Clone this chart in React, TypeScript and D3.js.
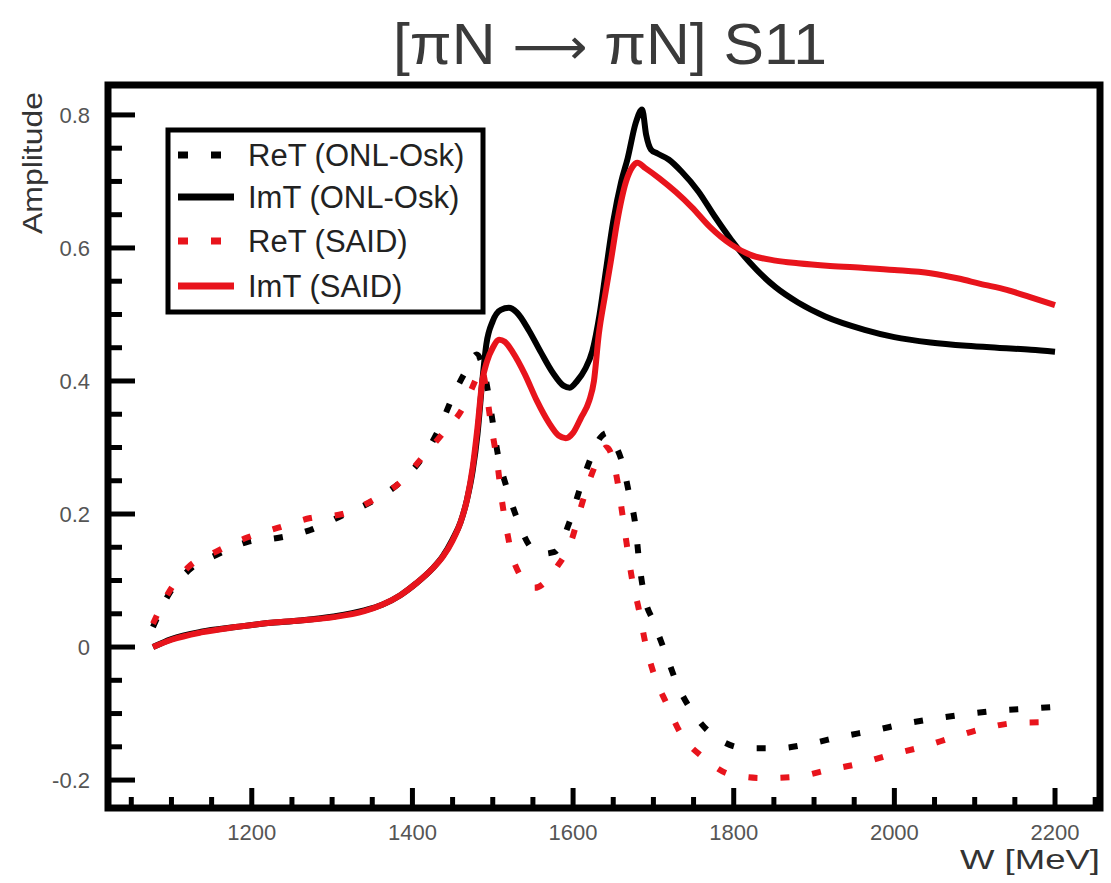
import React from "react";
import * as d3 from "d3";

const TITLE_LEFT = "[πN ";
const TITLE_ARROW = "⟶";
const TITLE_RIGHT = " πN] S11";
const X_TITLE = "W [MeV]";
const Y_TITLE = "Amplitude";
const X_TICKS = [1200, 1400, 1600, 1800, 2000, 2200];
const Y_TICKS = [-0.2, 0, 0.2, 0.4, 0.6, 0.8];
const Y_TICK_LABELS = ["-0.2", "0", "0.2", "0.4", "0.6", "0.8"];
const Y_MINOR = [-0.15, -0.1, -0.05, 0.05, 0.1, 0.15, 0.25, 0.3, 0.35, 0.45, 0.5, 0.55, 0.65, 0.7, 0.75];
const X_MINOR = [1050, 1100, 1150, 1250, 1300, 1350, 1450, 1500, 1550, 1650, 1700, 1750, 1850, 1900, 1950, 2050, 2100, 2150, 2250];

// ImT (ONL-Osk) — black solid
const imOnlW = [1077, 1100, 1137, 1180, 1220, 1260, 1302, 1340, 1363, 1385, 1405, 1425, 1438, 1450, 1460, 1468, 1475, 1481, 1487, 1492, 1500, 1510, 1520, 1530, 1545, 1560, 1575, 1588, 1596, 1605, 1615, 1624, 1633, 1641, 1650, 1660, 1668, 1678, 1686, 1691, 1697, 1705, 1719, 1735, 1756, 1776, 1797, 1820, 1852, 1880, 1914, 1963, 2000, 2045, 2090, 2128, 2170, 2200];
const imOnlV = [0.0, 0.012, 0.023, 0.030, 0.036, 0.040, 0.046, 0.055, 0.064, 0.078, 0.096, 0.118, 0.137, 0.162, 0.188, 0.222, 0.265, 0.32, 0.40, 0.455, 0.49, 0.507, 0.510, 0.503, 0.476, 0.443, 0.412, 0.393, 0.390, 0.400, 0.418, 0.445, 0.50, 0.567, 0.64, 0.70, 0.735, 0.788, 0.808, 0.77, 0.748, 0.742, 0.733, 0.715, 0.685, 0.648, 0.612, 0.578, 0.541, 0.518, 0.497, 0.477, 0.466, 0.458, 0.453, 0.450, 0.447, 0.444];

// ImT (SAID) — red solid
const imSaidW = [1077, 1100, 1137, 1180, 1220, 1260, 1302, 1340, 1363, 1385, 1405, 1425, 1438, 1450, 1460, 1468, 1475, 1481, 1487, 1493, 1500, 1508, 1515, 1525, 1540, 1555, 1570, 1582, 1591, 1600, 1610, 1620, 1626, 1632, 1640, 1647, 1655, 1666, 1674, 1680, 1690, 1707, 1728, 1748, 1770, 1797, 1820, 1852, 1880, 1920, 1963, 2000, 2045, 2080, 2107, 2140, 2169, 2200];
const imSaidV = [0.0, 0.011, 0.022, 0.030, 0.036, 0.040, 0.045, 0.054, 0.064, 0.078, 0.096, 0.118, 0.136, 0.160, 0.188, 0.222, 0.27, 0.33, 0.40, 0.43, 0.45, 0.462, 0.459, 0.443, 0.41, 0.37, 0.337, 0.318, 0.314, 0.322, 0.345, 0.37, 0.40, 0.47, 0.53, 0.58, 0.64, 0.70, 0.722, 0.728, 0.72, 0.705, 0.684, 0.661, 0.632, 0.605, 0.59, 0.581, 0.577, 0.573, 0.570, 0.567, 0.562, 0.554, 0.546, 0.537, 0.526, 0.514];

// ReT (ONL-Osk) — black dashed
const reOnlW = [1077, 1096, 1121, 1155, 1195, 1232, 1273, 1313, 1351, 1385, 1412, 1434, 1450, 1469, 1480, 1490, 1500, 1506, 1517, 1530, 1546, 1560, 1577, 1595, 1608, 1622, 1634, 1642, 1652, 1661, 1670, 1678, 1682, 1688, 1701, 1716, 1730, 1750, 1777, 1816, 1855, 1896, 1933, 1976, 2014, 2054, 2095, 2134, 2175, 2200];
const reOnlV = [0.03, 0.078, 0.115, 0.138, 0.158, 0.164, 0.176, 0.198, 0.22, 0.248, 0.284, 0.33, 0.376, 0.42, 0.44, 0.41, 0.338, 0.292, 0.241, 0.194, 0.152, 0.14, 0.143, 0.186, 0.236, 0.284, 0.315, 0.322, 0.305, 0.278, 0.229, 0.179, 0.131, 0.081, 0.036, -0.012, -0.057, -0.10, -0.135, -0.152, -0.152, -0.145, -0.135, -0.125, -0.115, -0.107, -0.10, -0.095, -0.092, -0.09];

// ReT (SAID) — red dashed
const reSaidW = [1077, 1096, 1121, 1155, 1195, 1232, 1273, 1313, 1351, 1385, 1413, 1437, 1463, 1478, 1485, 1499, 1506, 1511, 1517, 1527, 1552, 1579, 1599, 1610, 1622, 1642, 1655, 1661, 1667, 1673, 1682, 1690, 1701, 1716, 1734, 1763, 1797, 1837, 1878, 1917, 1957, 1995, 2035, 2075, 2113, 2153, 2192, 2200];
const reSaidV = [0.035, 0.081, 0.12, 0.143, 0.165, 0.179, 0.194, 0.20, 0.221, 0.248, 0.286, 0.32, 0.36, 0.40, 0.42, 0.326, 0.274, 0.224, 0.179, 0.126, 0.089, 0.119, 0.164, 0.211, 0.256, 0.30, 0.251, 0.203, 0.153, 0.105, 0.056, 0.006, -0.042, -0.084, -0.13, -0.167, -0.192, -0.197, -0.195, -0.185, -0.175, -0.162, -0.15, -0.135, -0.122, -0.114, -0.113, -0.113];

const LEGEND_LABELS = ["ReT (ONL-Osk)", "ImT (ONL-Osk)", "ReT (SAID)", "ImT (SAID)"];
const LEGEND_RED = [false, false, true, true];
const LEGEND_DASHED = [true, false, true, false];

const RED = "#e8141c";
const FONT = "'Liberation Sans', Arial, Helvetica, sans-serif";

export default function App() {
  const W = 1111, H = 883;
  const left = 108, right = 1100, top = 85, bottom = 808;
  const x = d3.scaleLinear().domain([1021, 2256]).range([left, right]);
  const y = d3.scaleLinear().domain([-0.242, 0.845]).range([bottom, top]);

  const line = d3
    .line<[number, number]>()
    .x((d) => x(d[0]))
    .y((d) => y(d[1]))
    .curve(d3.curveMonotoneX);

  const zip = (a: number[], b: number[]) => a.map((v, i) => [v, b[i]] as [number, number]);

  const series = [
    { d: line(zip(reOnlW, reOnlV)), color: "#000", dashed: true },
    { d: line(zip(imOnlW, imOnlV)), color: "#000", dashed: false },
    { d: line(zip(reSaidW, reSaidV)), color: RED, dashed: true },
    { d: line(zip(imSaidW, imSaidV)), color: RED, dashed: false },
  ];

  const legX = 168, legY = 130, legW = 315, legH = 182;
  const rowY = [155, 197, 241, 286];

  return (
    <svg width={W} height={H} style={{ position: "absolute", left: 0, top: 0, background: "#fff" }} fontFamily={FONT}>
      <defs>
        <clipPath id="plotclip">
          <rect x={left} y={top} width={right - left} height={bottom - top} />
        </clipPath>
      </defs>
      <rect x={0} y={0} width={W} height={H} fill="#fff" />
      {/* title */}
      <text x={393} y={64} fontSize={58} fill="#3a3a3a" textLength={434} lengthAdjust="spacingAndGlyphs">
        {TITLE_LEFT}
        <tspan fontFamily="'DejaVu Sans', sans-serif" fontSize={50}>{TITLE_ARROW}</tspan>
        {TITLE_RIGHT}
      </text>

      {/* curves */}
      <g clipPath="url(#plotclip)">
        {series.map((s, i) => (
          <path
            key={i}
            d={s.d || ""}
            fill="none"
            stroke={s.color}
            strokeWidth={6}
            strokeDasharray={s.dashed ? "9 23" : undefined}
            strokeLinejoin="round"
          />
        ))}
      </g>

      {/* ticks */}
      {Y_TICKS.map((v) => (
        <line key={"yt" + v} x1={left} x2={left + 27} y1={y(v)} y2={y(v)} stroke="#000" strokeWidth={5} />
      ))}
      {Y_MINOR.map((v) => (
        <line key={"ym" + v} x1={left} x2={left + 14} y1={y(v)} y2={y(v)} stroke="#000" strokeWidth={5} />
      ))}
      {X_TICKS.map((v) => (
        <line key={"xt" + v} x1={x(v)} x2={x(v)} y1={bottom} y2={bottom - 20} stroke="#000" strokeWidth={5} />
      ))}
      {X_MINOR.map((v) => (
        <line key={"xm" + v} x1={x(v)} x2={x(v)} y1={bottom} y2={bottom - 11} stroke="#000" strokeWidth={5} />
      ))}

      {/* frame */}
      <rect x={left} y={top} width={right - left} height={bottom - top} fill="none" stroke="#000" strokeWidth={7} />

      {/* tick labels */}
      {Y_TICKS.map((v, i) => (
        <text key={"yl" + v} x={90} y={y(v) + 8} fontSize={22} fill="#555" textAnchor="end">
          {Y_TICK_LABELS[i]}
        </text>
      ))}
      {X_TICKS.map((v) => (
        <text key={"xl" + v} x={x(v)} y={840} fontSize={22} fill="#555" textAnchor="middle">
          {v}
        </text>
      ))}

      {/* axis titles */}
      <text x={1100} y={869} fontSize={28} fill="#333" textAnchor="end" textLength={140} lengthAdjust="spacingAndGlyphs">
        {X_TITLE}
      </text>
      <text transform="translate(42,92) rotate(-90)" fontSize={28} fill="#333" textAnchor="end" textLength={142} lengthAdjust="spacingAndGlyphs">
        {Y_TITLE}
      </text>

      {/* legend */}
      <rect x={legX} y={legY} width={legW} height={legH} fill="#fff" stroke="#000" strokeWidth={5} />
      {LEGEND_LABELS.map((lab, i) => (
        <g key={lab}>
          <line
            x1={178}
            x2={234}
            y1={rowY[i]}
            y2={rowY[i]}
            stroke={LEGEND_RED[i] ? RED : "#000"}
            strokeWidth={7}
            strokeDasharray={LEGEND_DASHED[i] ? "10 23" : undefined}
          />
          <text x={248} y={rowY[i] + 11} fontSize={31} fill="#222">
            {lab}
          </text>
        </g>
      ))}
    </svg>
  );
}
